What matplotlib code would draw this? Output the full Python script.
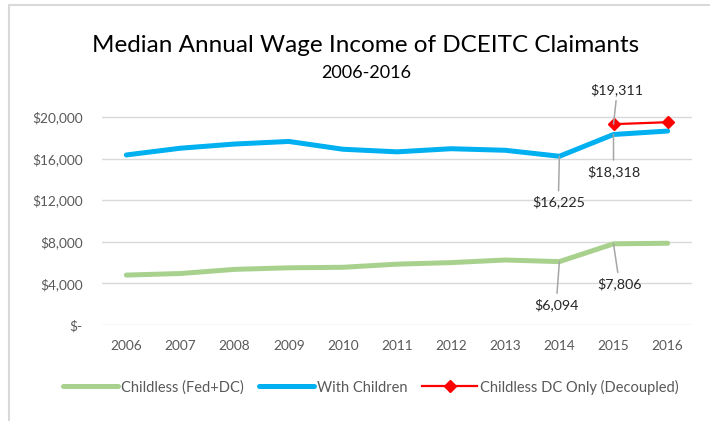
import matplotlib.pyplot as plt
from matplotlib.patches import Rectangle
import numpy as np

plt.rcParams['font.family'] = ['Lato', 'DejaVu Sans']

years = ['2006', '2007', '2008', '2009', '2010', '2011', '2012', '2013', '2014', '2015', '2016']
childless = [4800, 4950, 5350, 5500, 5550, 5850, 6000, 6250, 6094, 7806, 7860]
with_children = [16350, 17000, 17400, 17650, 16900, 16650, 16950, 16800, 16225, 18318, 18650]
dc_only_years = ['2015', '2016']
dc_only = [19311, 19500]
yticks = [0, 4000, 8000, 12000, 16000, 20000]
ytick_labels = ['$-', '$4,000', '$8,000', '$12,000', '$16,000', '$20,000']

fig = plt.figure(figsize=(7.1, 4.21), dpi=100)
fig.patches.append(Rectangle((9 / 710, -0.1), 1.0, 1.1 - 5 / 421, transform=fig.transFigure,
                             fill=False, edgecolor='#d9d9d9', linewidth=1.5))
ax = fig.add_axes([102 / 710, (421 - 325) / 421, 590 / 710, (325 - 117) / 421 * 24000 / 20000])

x = np.arange(len(years))
xr = np.array([years.index(y) for y in dc_only_years])
gl, = ax.plot(x, childless, color='#a9d18e', lw=3.6, solid_capstyle='round', label='Childless (Fed+DC)')
bl, = ax.plot(x, with_children, color='#00b0f0', lw=3.6, solid_capstyle='round', label='With Children')
rl, = ax.plot(xr, dc_only, color='#ff0000', lw=1.6, marker='D', ms=6, label='Childless DC Only (Decoupled)')

ax.set_ylim(0, 24000)
ax.set_xlim(-0.45, len(years) - 0.55)
ax.set_yticks(yticks)
ax.set_yticklabels(ytick_labels)
ax.set_xticks(x)
ax.set_xticklabels(years)
ax.tick_params(length=0, labelsize=9.8, labelcolor='#595959', pad=11)
ax.tick_params(axis='y', pad=14)
ax.grid(axis='y', color='#d9d9d9', lw=1)
ax.set_axisbelow(True)
for s in ax.spines.values():
    s.set_visible(False)


# data labels with leader lines
def callout(xi, yv, dx, dy, text):
    ax.annotate(text, xy=(xi, yv), xytext=(xi + dx, yv + dy), ha='center', va='center',
                fontsize=10.3, color='#262626',
                bbox=dict(boxstyle='square,pad=0.15', fc='none', ec='none'),
                arrowprops=dict(arrowstyle='-', color='#a6a6a6', lw=1.1, shrinkA=2, shrinkB=0))


callout(years.index('2015'), dc_only[0], 0.07, 3350, '$19,311')
callout(years.index('2015'), with_children[9], 0.0, -3550, '$18,318')
callout(years.index('2014'), with_children[8], -0.02, -4400, '$16,225')
callout(years.index('2014'), childless[8], -0.06, -4130, '$6,094')
callout(years.index('2015'), childless[9], 0.11, -3850, '$7,806')

fig.text(366 / 710, 1 - 45 / 421, 'Median Annual Wage Income of DCEITC Claimants', ha='center', va='center',
         fontsize=17.5, color='#000000')
fig.text(366 / 710, 1 - 73 / 421, '2006-2016', ha='center', va='center', fontsize=13, color='#000000')

fig.legend(handles=[gl, bl, rl], loc='center', bbox_to_anchor=(371 / 710, 1 - 387 / 421), ncol=3,
           frameon=False, fontsize=10.5, handlelength=3.8, columnspacing=1.0, handletextpad=0.2,
           labelcolor='#595959')

fig.savefig('out.png', dpi=100)
